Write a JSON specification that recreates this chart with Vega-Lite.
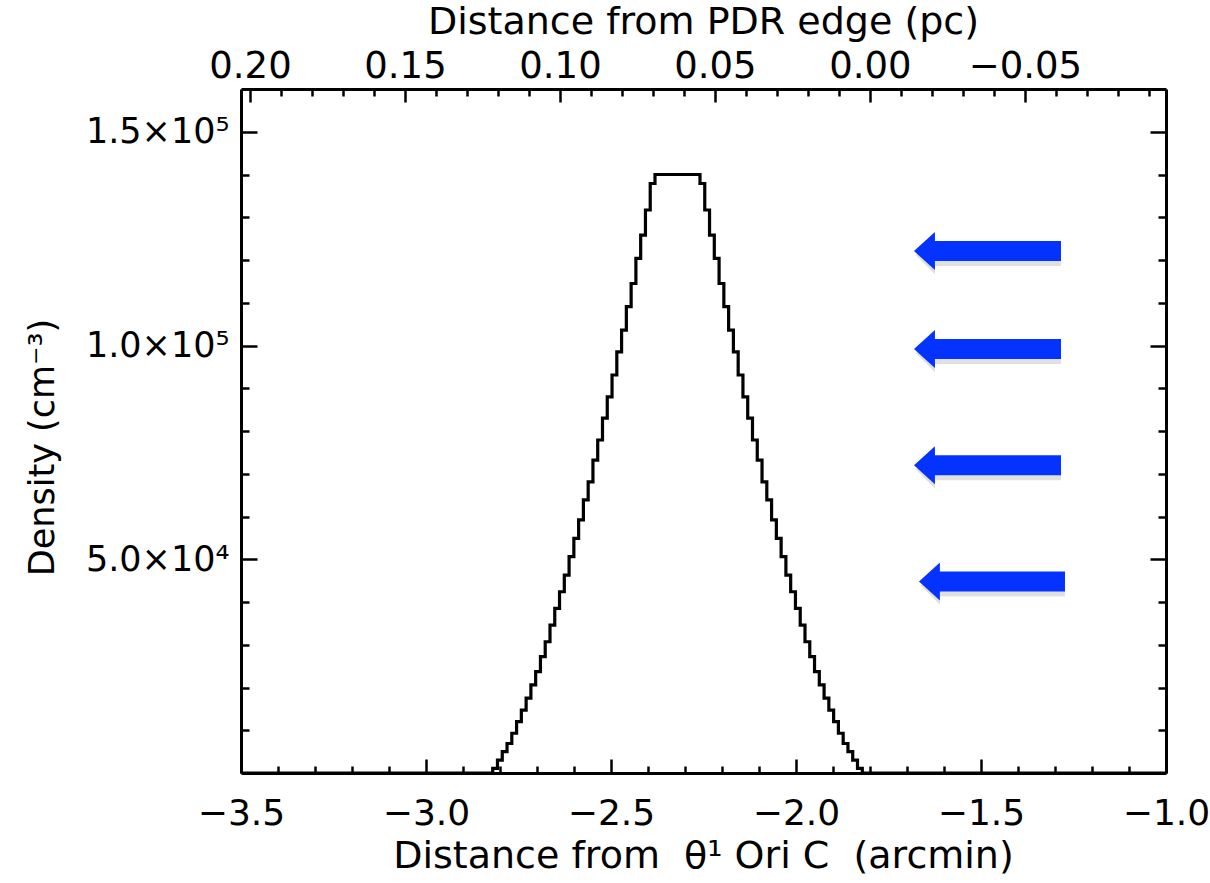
{
  "$schema": "https://vega.github.io/schema/vega-lite/v6.json",
  "autosize": {"type": "none"},
  "padding": {"left": 241, "top": 89, "right": 44, "bottom": 110},
  "width": 925,
  "height": 684,
  "background": "white",
  "config": {
    "view": {"stroke": null},
    "axis": {"grid": false, "domainColor": "black", "tickColor": "black", "labelColor": "black", "titleColor": "black", "domainWidth": 3, "tickWidth": 2.5, "labelFontWeight": "normal", "titleFontWeight": "normal"}
  },
  "datasets": {
    "profile": [
      {"x": -3.5, "n": 0},
      {"x": -2.8197, "n": 1100}, {"x": -2.8068, "n": 3000}, {"x": -2.7939, "n": 5000}, {"x": -2.7810, "n": 6900},
      {"x": -2.7681, "n": 9300}, {"x": -2.7552, "n": 12000}, {"x": -2.7423, "n": 14700}, {"x": -2.7294, "n": 17500},
      {"x": -2.7165, "n": 20600}, {"x": -2.7036, "n": 23700}, {"x": -2.6907, "n": 27200}, {"x": -2.6778, "n": 30700},
      {"x": -2.6649, "n": 34600}, {"x": -2.6520, "n": 38500}, {"x": -2.6391, "n": 42400}, {"x": -2.6262, "n": 46300},
      {"x": -2.6133, "n": 50600}, {"x": -2.6004, "n": 54900}, {"x": -2.5875, "n": 59200}, {"x": -2.5746, "n": 63900},
      {"x": -2.5617, "n": 68100}, {"x": -2.5488, "n": 73200}, {"x": -2.5359, "n": 77900}, {"x": -2.5230, "n": 83000},
      {"x": -2.5101, "n": 88000}, {"x": -2.4972, "n": 93100}, {"x": -2.4843, "n": 98500}, {"x": -2.4714, "n": 103600},
      {"x": -2.4585, "n": 109100}, {"x": -2.4456, "n": 114500}, {"x": -2.4327, "n": 120400}, {"x": -2.4198, "n": 125800},
      {"x": -2.4069, "n": 131700}, {"x": -2.3940, "n": 137900}, {"x": -2.3811, "n": 140000},
      {"x": -2.2595, "n": 137900}, {"x": -2.2466, "n": 131700}, {"x": -2.2337, "n": 125800}, {"x": -2.2208, "n": 120400},
      {"x": -2.2079, "n": 114500}, {"x": -2.1950, "n": 109100}, {"x": -2.1821, "n": 103600}, {"x": -2.1692, "n": 98500},
      {"x": -2.1563, "n": 93100}, {"x": -2.1434, "n": 88000}, {"x": -2.1305, "n": 83000}, {"x": -2.1176, "n": 77900},
      {"x": -2.1047, "n": 73200}, {"x": -2.0918, "n": 68100}, {"x": -2.0789, "n": 63900}, {"x": -2.0660, "n": 59200},
      {"x": -2.0531, "n": 54900}, {"x": -2.0402, "n": 50600}, {"x": -2.0273, "n": 46300}, {"x": -2.0144, "n": 42400},
      {"x": -2.0015, "n": 38500}, {"x": -1.9886, "n": 34600}, {"x": -1.9757, "n": 30700}, {"x": -1.9628, "n": 27200},
      {"x": -1.9499, "n": 23700}, {"x": -1.9370, "n": 20600}, {"x": -1.9241, "n": 17500}, {"x": -1.9112, "n": 14700},
      {"x": -1.8983, "n": 12000}, {"x": -1.8854, "n": 9300}, {"x": -1.8725, "n": 6900}, {"x": -1.8596, "n": 5000},
      {"x": -1.8467, "n": 3000}, {"x": -1.8338, "n": 1100}, {"x": -1.8208, "n": 0},
      {"x": -1.0, "n": 0}
    ],
    "arrows": [
      {"x_head": -1.6297, "x_tail": -1.2838, "n": 122100},
      {"x_head": -1.6297, "x_tail": -1.2838, "n": 99200},
      {"x_head": -1.6297, "x_tail": -1.2838, "n": 72000},
      {"x_head": -1.6162, "x_tail": -1.2730, "n": 44800}
    ],
    "pc": [{"pc": 0.1}]
  },
  "layer": [
    {
      "layer": [
        {
          "data": {"name": "profile"},
          "mark": {"type": "line", "interpolate": "step-after", "color": "black", "strokeWidth": 3.2, "strokeJoin": "miter", "clip": true},
          "encoding": {
            "x": {"field": "x", "type": "quantitative",
              "scale": {"domain": [-3.5, -1.0], "nice": false, "zero": false},
              "axis": {"orient": "bottom", "values": [-3.5, -3.0, -2.5, -2.0, -1.5, -1.0], "format": ".1f", "tickSize": -14, "labelPadding": 37, "labelBaseline": "top",
                "labelFont": "DejaVu Sans, sans-serif", "labelFontSize": 36,
                "title": "Distance from\u00a0\u00a0θ¹ Ori C\u00a0\u00a0(arcmin)", "titleFont": "DejaVu Sans, sans-serif", "titleFontSize": 38,
                "titleX": 462, "titleY": 83, "titleBaseline": "middle", "titleAlign": "center", "labelFlush": false}},
            "y": {"field": "n", "type": "quantitative",
              "scale": {"domain": [0, 160000], "nice": false, "zero": false},
              "axis": {"orient": "left", "values": [50000, 100000, 150000], "tickSize": -16, "labelPadding": 28,
                "labelExpr": "datum.value == 150000 ? '1.5×10⁵' : datum.value == 100000 ? '1.0×10⁵' : '5.0×10⁴'",
                "labelFont": "DejaVu Sans, sans-serif", "labelFontSize": 35,
                "title": "Density (cm⁻³)", "titleFont": "DejaVu Sans, sans-serif", "titleFontSize": 35,
                "titleX": -199, "titleY": 358, "titleAngle": -90, "titleBaseline": "middle", "titleAlign": "center", "labelFlush": false}}
          }
        },
        {
          "data": {"name": "profile"},
          "mark": {"type": "point", "opacity": 0},
          "encoding": {
            "x": {"field": "x", "type": "quantitative",
              "axis": {"orient": "bottom", "values": [-3.4, -3.3, -3.2, -3.1, -2.9, -2.8, -2.7, -2.6, -2.4, -2.3, -2.2, -2.1, -1.9, -1.8, -1.7, -1.6, -1.4, -1.3, -1.2, -1.1], "tickSize": -7, "labels": false, "domain": false, "title": null}},
            "y": {"field": "n", "type": "quantitative",
              "axis": {"orient": "left", "values": [10000, 20000, 30000, 40000, 60000, 70000, 80000, 90000, 110000, 120000, 130000, 140000], "tickSize": -8, "labels": false, "domain": false, "title": null}}
          }
        },
        {
          "data": {"name": "profile"},
          "mark": {"type": "point", "opacity": 0},
          "encoding": {
            "x": {"field": "x", "type": "quantitative", "axis": null},
            "y": {"field": "n", "type": "quantitative",
              "axis": {"orient": "right", "values": [50000, 100000, 150000], "tickSize": -16, "labels": false, "title": null}}
          }
        },
        {
          "data": {"name": "profile"},
          "mark": {"type": "point", "opacity": 0},
          "encoding": {
            "x": {"field": "x", "type": "quantitative", "axis": null},
            "y": {"field": "n", "type": "quantitative",
              "axis": {"orient": "right", "values": [10000, 20000, 30000, 40000, 60000, 70000, 80000, 90000, 110000, 120000, 130000, 140000], "tickSize": -8, "labels": false, "domain": false, "title": null}}
          }
        },
        {
          "data": {"name": "arrows"},
          "mark": {"type": "rule", "color": "black", "opacity": 0.12, "strokeWidth": 22, "xOffset": 2, "yOffset": 4},
          "encoding": {
            "x": {"field": "x_head", "type": "quantitative", "axis": null},
            "x2": {"field": "x_tail"},
            "y": {"field": "n", "type": "quantitative", "axis": null}
          }
        },
        {
          "data": {"name": "arrows"},
          "mark": {"type": "point", "shape": "M 0 -1 L 0 1 L -1 0 Z", "size": 1500, "filled": true, "color": "black", "opacity": 0.12, "strokeWidth": 0, "xOffset": 2, "yOffset": 4},
          "encoding": {
            "x": {"field": "x_head", "type": "quantitative", "axis": null},
            "y": {"field": "n", "type": "quantitative", "axis": null}
          }
        },
        {
          "data": {"name": "arrows"},
          "mark": {"type": "rule", "color": "#0433ff", "strokeWidth": 20},
          "encoding": {
            "x": {"field": "x_head", "type": "quantitative", "axis": null},
            "x2": {"field": "x_tail"},
            "y": {"field": "n", "type": "quantitative", "axis": null}
          }
        },
        {
          "data": {"name": "arrows"},
          "mark": {"type": "point", "shape": "M 0.1 -1 L 0.1 1 L -1 0 Z", "size": 1444, "filled": true, "color": "#0433ff", "opacity": 1, "strokeWidth": 0},
          "encoding": {
            "x": {"field": "x_head", "type": "quantitative", "axis": null},
            "y": {"field": "n", "type": "quantitative", "axis": null}
          }
        }
      ],
      "resolve": {"axis": {"x": "independent", "y": "independent"}}
    },
    {
      "data": {"name": "pc"},
      "mark": {"type": "point", "opacity": 0},
      "encoding": {
        "x": {"field": "pc", "type": "quantitative",
          "scale": {"domain": [-0.0955, 0.2029], "reverse": true, "nice": false, "zero": false},
          "axis": {"orient": "top", "values": [0.2, 0.15, 0.1, 0.05, 0, -0.05], "format": ".2f", "tickSize": -13, "labelPadding": 25, "labelBaseline": "alphabetic",
            "labelFont": "DejaVu Sans, sans-serif", "labelFontSize": 37,
            "title": "Distance from PDR edge (pc)", "titleFont": "DejaVu Sans, sans-serif", "titleFontSize": 38,
            "titleX": 462, "titleY": -67, "titleBaseline": "middle", "titleAlign": "center", "labelFlush": false}}
      }
    },
    {
      "data": {"name": "pc"},
      "mark": {"type": "point", "opacity": 0},
      "encoding": {
        "x": {"field": "pc", "type": "quantitative",
          "scale": {"domain": [-0.0955, 0.2029], "reverse": true, "nice": false, "zero": false},
          "axis": {"orient": "top", "values": [0.19, 0.18, 0.17, 0.16, 0.14, 0.13, 0.12, 0.11, 0.09, 0.08, 0.07, 0.06, 0.04, 0.03, 0.02, 0.01, -0.01, -0.02, -0.03, -0.04, -0.06, -0.07, -0.08, -0.09], "tickSize": -7, "labels": false, "domain": false, "title": null}}
      }
    }
  ],
  "resolve": {"scale": {"x": "independent"}, "axis": {"x": "independent"}}
}
